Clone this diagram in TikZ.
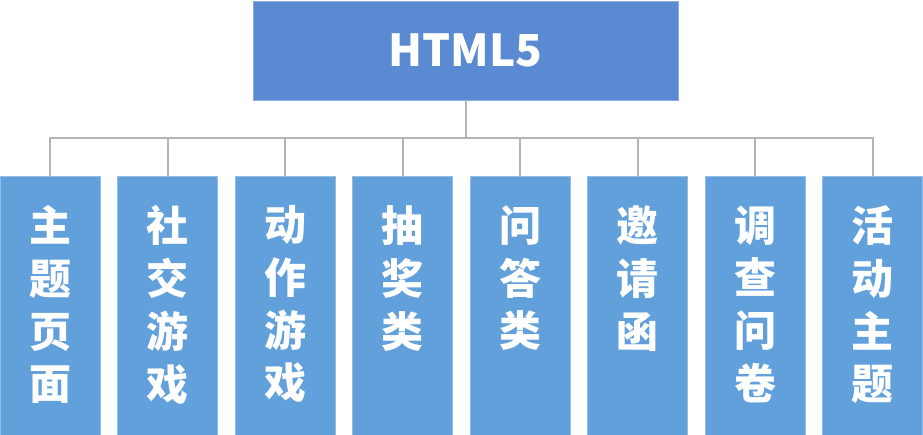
\documentclass[tikz,border=0pt]{standalone}
\usepackage{fontspec}
\setmainfont{Noto Sans CJK SC}
\definecolor{topblue}{HTML}{5A8AD2}
\definecolor{subblue}{HTML}{62A0DB}
\definecolor{linegray}{HTML}{B4B4B4}
\begin{document}
\begin{tikzpicture}[x=1pt,y=-1pt,
  topbox/.style={fill=topblue,draw=topblue!70!white,line width=0.8pt,minimum width=425pt,minimum height=99pt,inner sep=0pt,
    text=white,font=\fontsize{44}{52}\selectfont\bfseries},
  subbox/.style={fill=subblue,draw=subblue!70!white,line width=0.6pt,minimum width=100pt,minimum height=259pt,inner sep=0pt,anchor=north},
  subtext/.style={text=white,align=center,inner sep=0pt,anchor=north,font=\fontsize{42}{52.7}\selectfont\bfseries},
  conn/.style={draw=linegray,line width=2pt}]
\useasboundingbox (0,0) rectangle (923,434);
\node[topbox] (top) at (465.5,50.5) {HTML5};
\coordinate (bar) at (465.5,137.5);
\foreach \i/\t in {0/{主\\题\\页\\面},1/{社\\交\\游\\戏},2/{动\\作\\游\\戏},3/{抽\\奖\\类},4/{问\\答\\类},5/{邀\\请\\函},6/{调\\查\\问\\卷},7/{活\\动\\主\\题}}{
  \node[subbox] (b\i) at (50+117.5*\i,175.5) {};
  \node[subtext] (t\i) at ([yshift=-30pt]b\i.north) {\t};
}
\draw[conn] (top.south) -- (bar);
\draw[conn] (b0.north) |- (bar) -| (b7.north);
\foreach \i in {1,...,6}{
  \draw[conn] (b\i.north) -- (b\i.north |- bar);
}
\end{tikzpicture}
\end{document}
